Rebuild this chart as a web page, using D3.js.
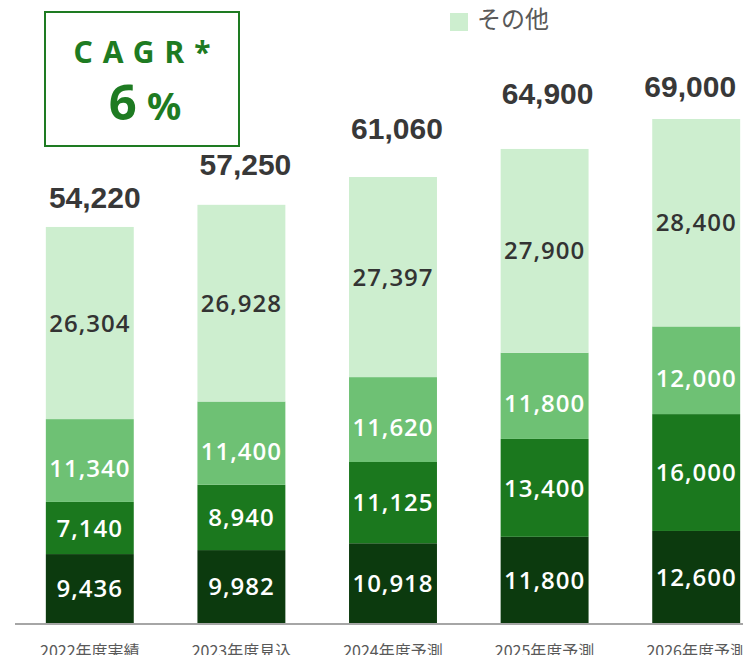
<!DOCTYPE html>
<html>
<head>
<meta charset="utf-8">
<script src="https://cdn.jsdelivr.net/npm/d3@7"></script>
<style>
  html, body { margin: 0; padding: 0; background: #fff; overflow: hidden; }
  svg { display: block; }
</style>
</head>
<body>
<svg id="chart"></svg>
<script>
// categories and series values, bottom segment first
const categories = ["2022年度実績", "2023年度見込", "2024年度予測", "2025年度予測", "2026年度予測"];
const seriesA = [9436, 9982, 10918, 11800, 12600];
const seriesB = [7140, 8940, 11125, 13400, 16000];
const seriesC = [11340, 11400, 11620, 11800, 12000];
const otherValues = [26304, 26928, 27397, 27900, 28400];
const totals = [54220, 57250, 61060, 64900, 69000];
const legendLabel = "その他";
const cagrTitle = "CAGR*";
const cagrValue = "6";

const WIDTH = 743;
const HEIGHT = 655;

const colors = ["#0c3a0e", "#1b781e", "#6ec174", "#cdeecf"];
const labelColors = ["#fff", "#fff", "#fff", "#333"];
// small nudges for labels (layout only)
const segmentDy = [0, 0, 8, 0];
const totalLift = [19, 30, 38, 45, 22];
const totalDx = [5, 4, 4, 3, -6];

const svg = d3.select("#chart").attr("width", WIDTH).attr("height", HEIGHT);

// build a table for the stack
const table = categories.map((c, i) => ({
  cat: c,
  s0: seriesA[i],
  s1: seriesB[i],
  s2: seriesC[i],
  s3: otherValues[i]
}));
const keys = ["s0", "s1", "s2", "s3"];
const stacked = d3.stack().keys(keys)(table);

const x = d3
  .scaleBand()
  .domain(categories)
  .range([14, 772])
  .paddingInner(0.42)
  .paddingOuter(0.21);

const y = d3.scaleLinear().domain([0, 69000]).range([623, 119]);

const fmt = d3.format(",");

// bars
const layers = svg
  .selectAll("g.layer")
  .data(stacked)
  .join("g")
  .classed("layer", true)
  .attr("fill", (d, i) => colors[i]);

layers
  .selectAll("rect")
  .data((d) => d)
  .join("rect")
  .attr("x", (d) => x(d.data.cat))
  .attr("y", (d) => y(d[1]))
  .attr("width", x.bandwidth())
  .attr("height", (d) => y(d[0]) - y(d[1]));

// segment labels
stacked.forEach((layer, li) => {
  svg
    .append("g")
    .selectAll("text")
    .data(layer)
    .join("text")
    .attr("x", (d) => x(d.data.cat) + x.bandwidth() / 2)
    .attr("y", (d) => (y(d[0]) + y(d[1])) / 2 + segmentDy[li])
    .attr("dy", "0.36em")
    .attr("text-anchor", "middle")
    .attr("fill", labelColors[li])
    .style("font-family", "'Open Sans', 'Noto Sans', sans-serif")
    .style("font-weight", 600)
    .style("font-size", "24px")
    .style("letter-spacing", "1px")
    .text((d) => fmt(d.data[layer.key]));
});

// totals above bars
svg
  .append("g")
  .selectAll("text")
  .data(totals)
  .join("text")
  .attr("x", (d, i) => x(categories[i]) + x.bandwidth() / 2 + totalDx[i])
  .attr("y", (d, i) => y(d) - totalLift[i])
  .attr("text-anchor", "middle")
  .attr("fill", "#383838")
  .style("font-family", "'Liberation Sans', Arial, sans-serif")
  .style("font-weight", "bold")
  .style("font-size", "30px")
  .text((d) => fmt(d));

// baseline
svg
  .append("line")
  .attr("x1", 15)
  .attr("x2", WIDTH)
  .attr("y1", y(0) + 1)
  .attr("y2", y(0) + 1)
  .attr("stroke", "#a6a6a6")
  .attr("stroke-width", 2);

// category labels (cut by the bottom edge, as in the original)
svg
  .append("g")
  .selectAll("text")
  .data(categories)
  .join("text")
  .attr("x", (d) => x(d) + x.bandwidth() / 2)
  .attr("y", 657)
  .attr("text-anchor", "middle")
  .attr("fill", "#595959")
  .style("font-family", "'Noto Sans CJK JP', sans-serif")
  .style("font-size", "16px")
  .text((d) => d);

// legend
svg
  .append("rect")
  .attr("x", 450)
  .attr("y", 13)
  .attr("width", 18)
  .attr("height", 18)
  .attr("fill", colors[3]);
svg
  .append("text")
  .attr("x", 477)
  .attr("y", 28)
  .attr("fill", "#595959")
  .style("font-family", "'Noto Sans CJK JP', sans-serif")
  .style("font-size", "24px")
  .text(legendLabel);

// CAGR box
const green = "#1e7b22";
svg
  .append("rect")
  .attr("x", 45)
  .attr("y", 12)
  .attr("width", 194)
  .attr("height", 134)
  .attr("fill", "none")
  .attr("stroke", green)
  .attr("stroke-width", 2);
svg
  .append("text")
  .attr("x", 147)
  .attr("y", 63)
  .attr("text-anchor", "middle")
  .attr("fill", green)
  .style("font-family", "'Noto Sans', sans-serif")
  .style("font-weight", "bold")
  .style("font-size", "30px")
  .style("letter-spacing", "10px")
  .text(cagrTitle);
const cagr = svg
  .append("text")
  .attr("x", 145)
  .attr("y", 120)
  .attr("text-anchor", "middle")
  .attr("fill", green)
  .style("font-family", "'Noto Sans', sans-serif")
  .style("font-weight", "bold");
cagr.append("tspan").style("font-size", "49px").text(cagrValue);
cagr.append("tspan").attr("dx", 10).style("font-size", "38px").text("%");
</script>
</body>
</html>
